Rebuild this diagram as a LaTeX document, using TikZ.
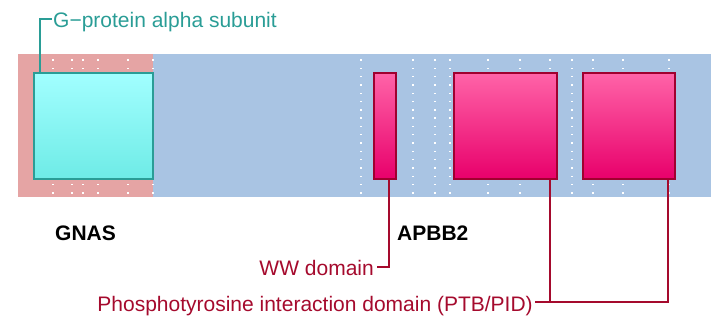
\documentclass[tikz,border=0pt]{standalone}
\usepackage{fontspec}
\setmainfont{Liberation Sans}
\definecolor{bandblue}{HTML}{A9C4E3}
\definecolor{bandred}{HTML}{E5A4A4}
\definecolor{cyantop}{HTML}{A2FFFF}
\definecolor{cyanbot}{HTML}{6EEBE6}
\definecolor{tealc}{HTML}{2A9D96}
\definecolor{pinktop}{HTML}{FF64A8}
\definecolor{pinkbot}{HTML}{E8006B}
\definecolor{pinkedge}{HTML}{A0002F}
\definecolor{labred}{HTML}{A50A2D}
\tikzset{
  cyanbox/.style={draw=tealc, line width=1.5pt, top color=cyantop, bottom color=cyanbot, inner sep=0pt, anchor=north west},
  pinkbox/.style={draw=pinkedge, line width=1.5pt, top color=pinktop, bottom color=pinkbot, inner sep=0pt, anchor=north west},
  tealline/.style={draw=tealc, line width=2pt},
  redline/.style={draw=labred, line width=2pt},
  teallabel/.style={text=tealc, inner sep=0pt},
  redlabel/.style={text=labred, inner sep=0pt},
  genelabel/.style={font=\fontsize{21}{25}\selectfont\bfseries, inner sep=0pt, anchor=base west},
  griddot/.style={fill=white, draw=none},
}
\begin{document}
\begin{tikzpicture}[x=1pt,y=-1pt,font=\fontsize{21}{25}\selectfont]
\useasboundingbox (0,0) rectangle (719,327);
% bands
\fill[bandblue] (153,54) rectangle (711,197);
\fill[bandred] (18,54) rectangle (153,197);
% dotted grid columns
\foreach \gx in {53,72,83,98,128,153,361,413,435,450,488,520,550,572,593,623,669}{
  \foreach \k in {0,...,16}{
    \fill[griddot] (\gx-0.7,60+\k*8.3-0.7) rectangle (\gx+0.7,60+\k*8.3+0.7);
  }
}
% shadows
\fill[black,opacity=0.12] (375,74) rectangle (397,180);
\fill[black,opacity=0.12] (455,74) rectangle (558,180);
\fill[black,opacity=0.12] (584,74) rectangle (676,180);
% domain boxes
\node[cyanbox, minimum width=119pt, minimum height=106pt] (gp) at (33,72) {};
\node[pinkbox, minimum width=22pt, minimum height=106pt] (ww) at (373,72) {};
\node[pinkbox, minimum width=103pt, minimum height=106pt] (p1) at (453,72) {};
\node[pinkbox, minimum width=92pt, minimum height=106pt] (p2) at (582,72) {};
% gene labels
\node[genelabel] (gnas) at (55,240) {GNAS};
\node[genelabel] (apbb) at (397,240) {APBB2};
% domain labels
\node[teallabel, anchor=base west] (gpl) at (53,27) {G−protein alpha subunit};
\node[redlabel, anchor=base east] (wwl) at (374,275) {WW domain};
\node[redlabel, anchor=base east] (ptbl) at (533,311.5) {Phosphotyrosine interaction domain (PTB/PID)};
% connectors
\draw[tealline] ([xshift=7pt]gp.north west) |- ([yshift=8pt,xshift=-1pt]gpl.base west);
\draw[redline] ([xshift=4pt]ww.south) |- ([yshift=8pt,xshift=3pt]wwl.base east);
\coordinate (pj) at ([yshift=9.5pt,xshift=2pt]ptbl.base east);
\draw[redline] (pj) -| ([xshift=39pt]p2.south);
\draw[redline] ([xshift=44.5pt]p1.south) -- ([xshift=44.5pt]p1.south |- pj);
\end{tikzpicture}
\end{document}
